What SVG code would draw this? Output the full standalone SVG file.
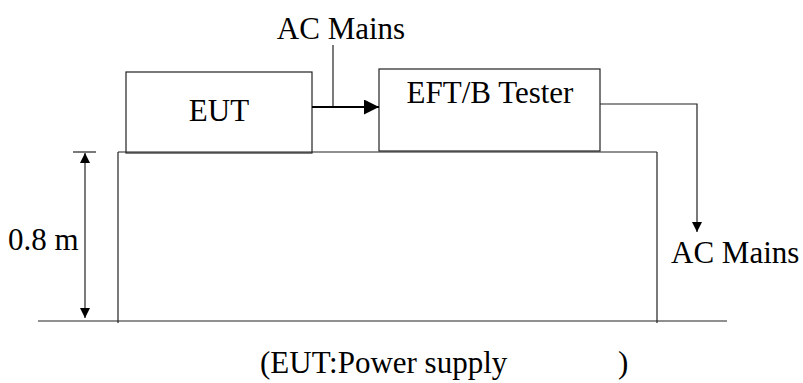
<svg xmlns="http://www.w3.org/2000/svg" width="803" height="383" viewBox="0 0 803 383">
<style>
  .ln{stroke:#222;stroke-width:1.2;fill:none}
  .box{stroke:#222;stroke-width:1.2;fill:none}
  .t{font-family:"Liberation Serif","Times New Roman",serif;font-size:31px;fill:#000}
</style>
<defs>
  <marker id="ah" viewBox="0 0 10 10" refX="10" refY="5" markerWidth="10" markerHeight="10" markerUnits="userSpaceOnUse" orient="auto">
    <path d="M0,0 L10,5 L0,10 Z" fill="#000"/>
  </marker>
  <marker id="ahBig" viewBox="0 0 10 10" refX="10" refY="5" markerWidth="16" markerHeight="15" markerUnits="userSpaceOnUse" orient="auto">
    <path d="M0,0 L10,5 L0,10 Z" fill="#000"/>
  </marker>
</defs>
<rect width="803" height="383" fill="#fff"/>
<g id="table">
  <path class="ln" d="M118,152 H657 M118,152 V323 M657,152 V323"/>
</g>
<g id="ground">
  <path class="ln" d="M38,321 H727"/>
</g>
<g id="eut">
  <rect class="box" x="126" y="72" width="186" height="81"/>
  <text class="t" x="219" y="121" text-anchor="middle">EUT</text>
</g>
<g id="tester">
  <rect class="box" x="379" y="69" width="221" height="82"/>
  <text class="t" x="490" y="103" text-anchor="middle">EFT/B Tester</text>
</g>
<g id="ac-top">
  <text class="t" x="341" y="39" text-anchor="middle">AC Mains</text>
</g>
<g id="ac-right">
  <text class="t" x="671" y="263">AC Mains</text>
</g>
<g id="dimension">
  <path class="ln" d="M73,152 H96"/>
  <line class="ln" x1="85" y1="200" x2="85" y2="153" marker-end="url(#ah)"/>
  <line class="ln" x1="85" y1="200" x2="85" y2="318" marker-end="url(#ah)"/>
  <text class="t" x="8" y="250">0.8 m</text>
</g>
<g id="connectors">
  <line x1="333" y1="45" x2="333" y2="107" class="ln"/>
  <line x1="312" y1="107" x2="379" y2="107" stroke="#000" stroke-width="2.2" marker-end="url(#ahBig)"/>
  <path class="ln" d="M600,104 H697 V232" marker-end="url(#ah)"/>
</g>
<g id="caption">
  <text class="t" y="373"><tspan x="260">(EUT:Power supply</tspan><tspan x="618">)</tspan></text>
</g>
</svg>
